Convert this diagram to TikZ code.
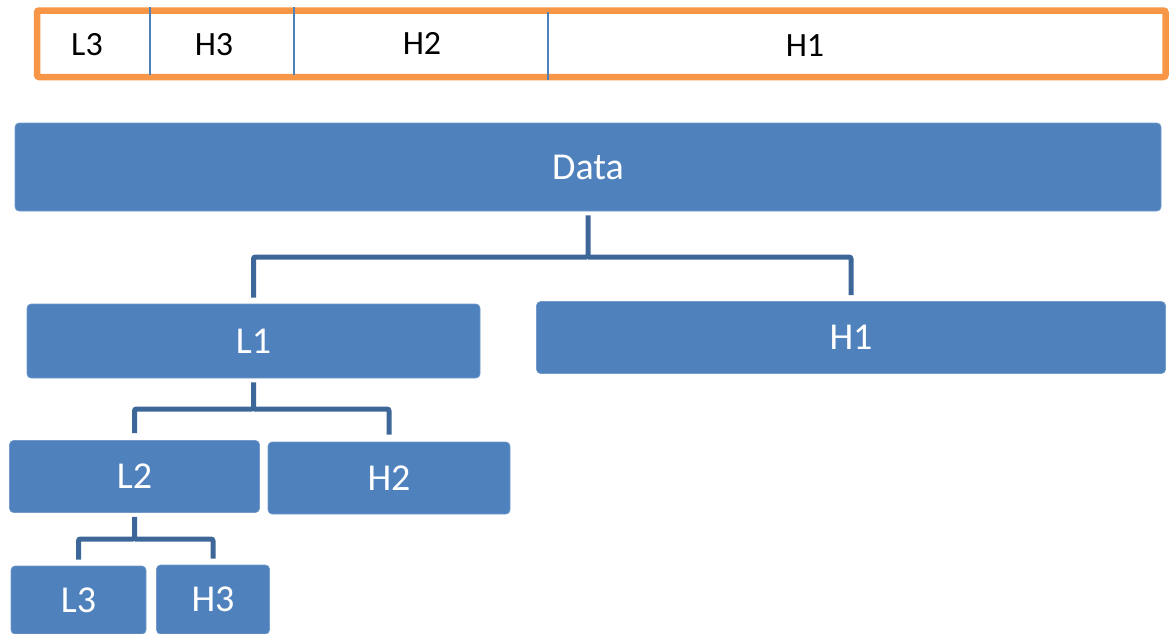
\documentclass[tikz,border=0pt]{standalone}
\usepackage{fontspec}
\setmainfont{Carlito}
\definecolor{boxblue}{HTML}{4F81BD}
\definecolor{linkblue}{HTML}{3D6799}
\definecolor{barorange}{HTML}{F79646}
\tikzset{
  blk/.style={fill=boxblue, draw=boxblue!80!white, line width=0.6pt,
    rounded corners=4pt, text=white, inner sep=0pt,
    font=\fontsize{38}{45}\selectfont},
  link/.style={draw=linkblue, line width=5pt, rounded corners=2pt},
  cell/.style={inner sep=0pt, font=\fontsize{34}{40}\selectfont},
  divider/.style={draw=boxblue, line width=1.2pt}
}
\begin{document}
\begin{tikzpicture}[x=1pt,y=-1pt]
  \useasboundingbox (0,0) rectangle (1171,633);
  \clip (0,0) rectangle (1171,633);

  % storage layout
  \draw[barorange, line width=6.5pt, rounded corners=2pt] (37,10.5) rectangle (1165.5,77);
  \foreach \x in {150,294}
  \draw[divider] (\x,7) -- (\x,75);
  \draw[divider] (548,12) -- (548,80);
  \node[cell] (tl3) at (87,45) {L3};
  \node[cell] (th3) at (214,45) {H3};
  \node[cell] (th2) at (422,43) {H2};
  \node[cell] (th1) at (805,46) {H1};

  % decomposition tree
  \node[blk, minimum width=1146pt, minimum height=88pt] (data) at (588,167) {Data};
  \node[blk, minimum width=453pt, minimum height=74pt] (l1) at (253.5,341) {L1};
  \node[blk, minimum width=629pt, minimum height=72pt] (h1) at (851,337.5) {H1};
  \node[blk, minimum width=250pt, minimum height=72pt] (l2) at (134.5,476.5) {L2};
  \node[blk, minimum width=242pt, minimum height=72pt] (h2) at (389,478) {H2};
  \node[blk, minimum width=135pt, minimum height=68pt] (l3) at (78.5,600) {L3};
  \node[blk, minimum width=113pt, minimum height=69pt] (h3) at (213,599.5) {H3};

  \coordinate (j1) at (588,257);
  \coordinate (j2) at (253.5,409);
  \coordinate (j3) at (134.5,539);

  \draw[link] ([yshift=-4pt]data.south) -- (j1) -| ([yshift=6pt]l1.north);
  \draw[link] (j1) -| ([yshift=6pt]h1.north);
  \draw[link] ([yshift=-4pt]l1.south) -- (j2) -| ([yshift=7pt]l2.north);
  \draw[link] (j2) -| ([yshift=7pt]h2.north);
  \draw[link] ([yshift=-4pt]l2.south) -- (j3) -| ([yshift=6pt]l3.north);
  \draw[link] (j3) -| ([yshift=6pt]h3.north);
\end{tikzpicture}
\end{document}
